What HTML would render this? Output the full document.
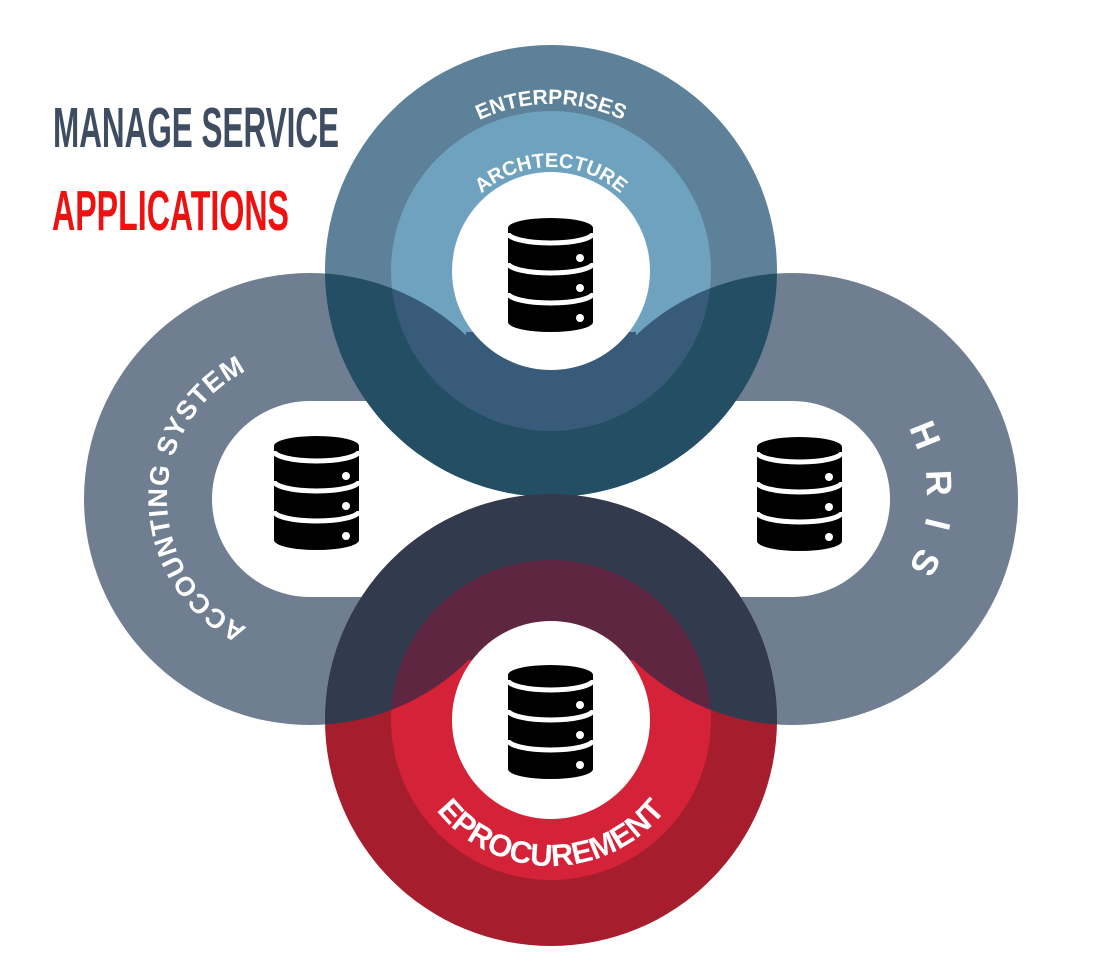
<!DOCTYPE html>
<html><head><meta charset="utf-8"><style>
html,body{margin:0;padding:0;background:#fff;}
svg{display:block;}
</style></head><body>
<svg width="1109" height="974" viewBox="0 0 1109 974" xmlns="http://www.w3.org/2000/svg" font-family="'Liberation Sans', sans-serif">
<defs>
<clipPath id="lrt"><circle cx="310" cy="499" r="226"/><circle cx="792" cy="499" r="226"/><rect x="466" y="332" width="170" height="240"/></clipPath>
<clipPath id="lrb"><circle cx="310" cy="499" r="226"/><circle cx="792" cy="499" r="226"/><rect x="466" y="420" width="170" height="240"/></clipPath>
<mask id="nolr" maskUnits="userSpaceOnUse" x="0" y="0" width="1109" height="974">
<rect x="0" y="0" width="1109" height="974" fill="#fff"/>
<circle cx="310" cy="499" r="226" fill="#000"/><circle cx="792" cy="499" r="226" fill="#000"/>
</mask>
<g id="db">
<path d="M0,10 A42.5 10 0 0 1 85,10 L85,104 A42.5 10 0 0 1 0,104 Z" fill="#000"/>
<path d="M0,15 A42.5 10 0 0 0 85,15 M0,45 A42.5 10 0 0 0 85,45 M0,75 A42.5 10 0 0 0 85,75" fill="none" stroke="#fff" stroke-width="5"/>
<circle cx="72" cy="40" r="4" fill="#fff"/><circle cx="72" cy="70" r="4" fill="#fff"/><circle cx="72" cy="100" r="4" fill="#fff"/>
</g>
<path id="pEnt" d="M384,271 A167 167 0 0 1 718,271"/>
<path id="pArc" d="M447,271 A104 104 0 0 1 655,271"/>
<path id="pAcc" d="M310,642 A143 143 0 0 1 310,356"/>
<path id="pHr" d="M792,364 A135 135 0 0 1 792,634"/>
<path id="pEp" d="M405,720 A146 146 0 0 0 697,720"/>
</defs>
<circle cx="310" cy="499" r="226" fill="#6f7e91"/>
<circle cx="792" cy="499" r="226" fill="#6f7e91"/>
<circle cx="310" cy="499" r="98" fill="#fff"/>
<circle cx="792" cy="499" r="98" fill="#fff"/>
<rect x="310" y="401" width="482" height="196" fill="#fff"/>
<circle cx="551" cy="271" r="226" fill="#5c8199"/>
<circle cx="551" cy="271" r="160" fill="#6ea2bf"/>
<g clip-path="url(#lrt)">
<circle cx="551" cy="271" r="226" fill="#244e63"/>
<circle cx="551" cy="271" r="160" fill="#375b79"/>
</g>
<circle cx="551" cy="271" r="99" fill="#fff" mask="url(#nolr)"/>
<circle cx="551" cy="720" r="226" fill="#a61d2e"/>
<circle cx="551" cy="720" r="160" fill="#d42238"/>
<g clip-path="url(#lrb)">
<circle cx="551" cy="720" r="226" fill="#323b4e"/>
<circle cx="551" cy="720" r="160" fill="#5f2641"/>
</g>
<circle cx="551" cy="720" r="99" fill="#fff" mask="url(#nolr)"/>
<use href="#db" x="508" y="218"/>
<use href="#db" x="274" y="436"/>
<use href="#db" x="757" y="437"/>
<use href="#db" x="508" y="665"/>
<text font-size="21" font-weight="bold" fill="#fff"><textPath href="#pEnt" startOffset="50%" text-anchor="middle">ENTERPRISES</textPath></text>
<text font-size="20" font-weight="bold" fill="#fff"><textPath href="#pArc" startOffset="50%" text-anchor="middle">ARCHTECTURE</textPath></text>
<text font-size="27" font-weight="bold" fill="#fff" letter-spacing="1"><textPath href="#pAcc" startOffset="50%" text-anchor="middle">ACCOUNTING SYSTEM</textPath></text>
<text font-size="36" font-weight="bold" fill="#fff" letter-spacing="20"><textPath href="#pHr" startOffset="52%" text-anchor="middle">HRIS</textPath></text>
<text font-size="31" font-weight="bold" fill="#fff"><textPath href="#pEp" startOffset="50%" text-anchor="middle">EPROCUREMENT</textPath></text>
<text x="53" y="147" font-size="57" font-weight="bold" fill="#3f4d63" textLength="286" lengthAdjust="spacingAndGlyphs">MANAGE SERVICE</text>
<text x="52" y="230" font-size="57" font-weight="bold" fill="#ee1111" textLength="237" lengthAdjust="spacingAndGlyphs">APPLICATIONS</text>
</svg>
</body></html>
